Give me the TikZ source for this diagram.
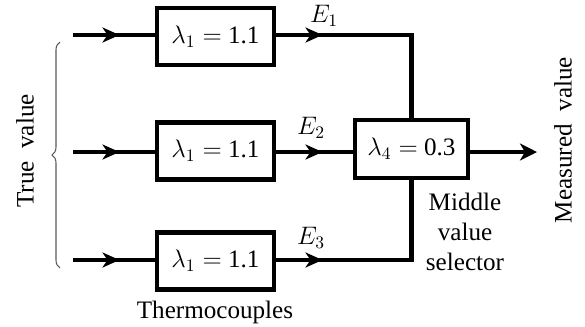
\documentclass[tikz,border=0pt]{standalone}
\usepackage{fontspec}
\setmainfont{Liberation Serif}
\usepackage{tikz}
\usetikzlibrary{arrows.meta, decorations.markings, decorations.pathreplacing}

\begin{document}
\begin{tikzpicture}[
    x=0.02cm, y=-0.02cm,
    font=\fontsize{14.3}{17}\selectfont,
    box/.style={rectangle, draw, line width=2.3pt, minimum width=2.34cm, minimum height=1.14cm, inner sep=0pt},
    flow/.style={line width=2.3pt, decoration={markings, mark=at position 0.93cm with {\arrow{Stealth[length=0.34cm, width=0.3cm, inset=0.1cm]}}}, postaction={decorate}},
    arrow/.style={line width=2.3pt, -{Stealth[length=0.34cm, width=0.34cm, inset=0.1cm]}},
    lbl/.style={inner sep=0pt},
]
\useasboundingbox (0,0) rectangle (585,326);

% === Thermocouples ===
\node[box] (tc1) at (215.5, 36.5) {$\lambda_1 =$ 1.1};
\node[box] (tc2) at (215.5, 151) {$\lambda_1 =$ 1.1};
\node[box] (tc3) at (215.5, 261) {$\lambda_1 =$ 1.1};

% === Middle value selector ===
\node[box, minimum width=2.26cm, minimum height=1.16cm] (mvs) at (411.5, 149) {$\lambda_4 =$ 0.3};

% === Free ends ===
\coordinate (in1) at (73, 35);
\coordinate (in2) at (73, 152);
\coordinate (in3) at (73, 260);
\coordinate (out) at (537, 152);

% === Inputs ===
\draw[flow] (in1) -- (tc1.west |- in1);
\draw[flow] (in2) -- (tc2.west |- in2);
\draw[flow] (in3) -- (tc3.west |- in3);

% === Thermocouples -> selector ===
\draw[flow] (tc1.east |- in1) -| (mvs.north);
\draw[flow] (tc2.east |- in2) -- (mvs.west |- in2);
\draw[flow] (tc3.east |- in3) -| (mvs.south);
\draw[arrow] (mvs.east |- in2) -- (out);

% === Labels ===
\node[lbl] (e1) at (324, 16) {$E_1$};
\node[lbl] (e2) at (311, 128) {$E_2$};
\node[lbl] (e3) at (311, 238) {$E_3$};
\node[lbl, align=center] (sel) at (465, 232) {Middle\\value\\selector};
\node[lbl] (therm) at (215, 312) {Thermocouples};
\node[lbl, rotate=90] (true) at (25, 151) {True\ \ value};
\node[lbl, rotate=90] (meas) at (563, 140) {Measured\ \ value};

% === Brace ===
\draw[gray!70!black, line width=0.6pt, decorate, decoration={brace, amplitude=0.16cm}] (60, 268) -- (60, 42);

\end{tikzpicture}
\end{document}
